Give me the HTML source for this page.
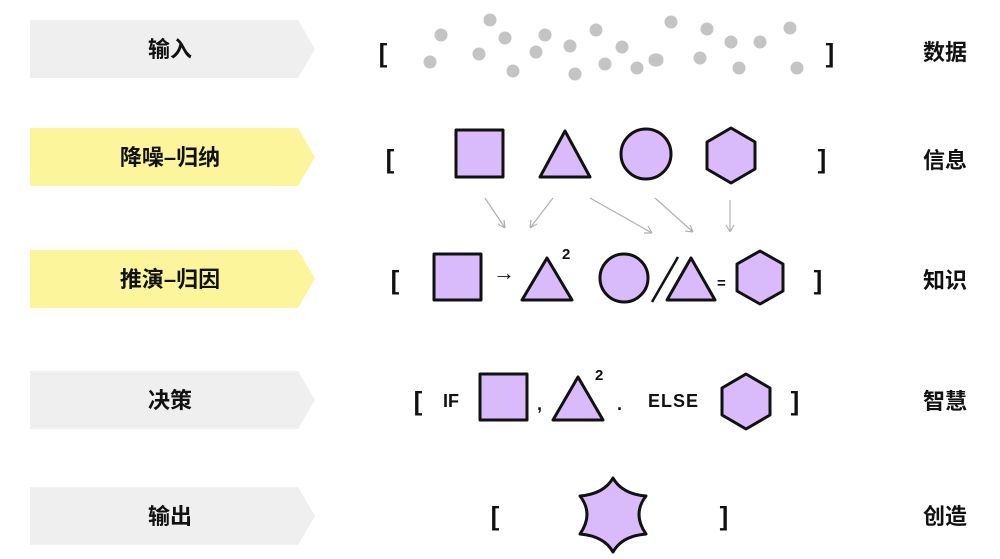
<!DOCTYPE html>
<html><head><meta charset="utf-8"><style>
html,body{margin:0;padding:0;background:#fff;width:1000px;height:559px;overflow:hidden}
svg{display:block}
.lbl{font-family:"Liberation Sans","Noto Sans CJK SC",sans-serif;font-weight:bold;font-size:22px;fill:#111;text-anchor:middle}
.br{font-family:"Liberation Sans",sans-serif;font-weight:bold;font-size:26px;fill:#111;text-anchor:middle}
.sh{fill:#d9bbfb;stroke:#111;stroke-width:3;stroke-linejoin:round}
.tx{font-family:"Liberation Sans",sans-serif;font-weight:bold;fill:#111}
</style></head><body>
<svg width="1000" height="559" viewBox="0 0 1000 559">
<g>
<g><polygon points="30,20 298,20 315,49 298,78 30,78" fill="#efefef"/><text class="lbl" x="170" y="57">输入</text></g>
<g><polygon points="30,128 298,128 315,157 298,186 30,186" fill="#fcf59b"/><text class="lbl" x="170" y="165">降噪–归纳</text></g>
<g><polygon points="30,250 298,250 315,279 298,308 30,308" fill="#fcf59b"/><text class="lbl" x="170" y="287">推演–归因</text></g>
<g><polygon points="30,371 298,371 315,400 298,429 30,429" fill="#efefef"/><text class="lbl" x="170" y="408">决策</text></g>
<g><polygon points="30,487 298,487 315,516 298,545 30,545" fill="#efefef"/><text class="lbl" x="170" y="524">输出</text></g>
</g>
<g>
<text class="lbl" x="945" y="60">数据</text>
<text class="lbl" x="945" y="168">信息</text>
<text class="lbl" x="945" y="288">知识</text>
<text class="lbl" x="945" y="409">智慧</text>
<text class="lbl" x="945" y="524">创造</text>
</g>
<g>
<text class="br" x="383" y="62">[</text><text class="br" x="830" y="62">]</text>
<g fill="#c4c4c4">
<circle cx="490" cy="20" r="6.5"/><circle cx="441" cy="35" r="6.5"/><circle cx="505" cy="38" r="6.5"/><circle cx="545" cy="35" r="6.5"/><circle cx="596" cy="30" r="6.5"/><circle cx="671" cy="22" r="6.5"/><circle cx="707" cy="29" r="6.5"/><circle cx="790" cy="28" r="6.5"/><circle cx="479" cy="54" r="6.5"/><circle cx="536" cy="52" r="6.5"/><circle cx="570" cy="46" r="6.5"/><circle cx="622" cy="47" r="6.5"/><circle cx="575" cy="74" r="6.5"/><circle cx="430" cy="62" r="6.5"/><circle cx="513" cy="71" r="6.5"/><circle cx="605" cy="64" r="6.5"/><circle cx="637" cy="68" r="6.5"/><circle cx="657" cy="60" r="6.5"/><circle cx="700" cy="58" r="6.5"/><circle cx="731" cy="42" r="6.5"/><circle cx="760" cy="42" r="6.5"/><circle cx="739" cy="68" r="6.5"/><circle cx="797" cy="68" r="6.5"/><circle cx="655" cy="60" r="6.5"/>
</g></g>
<g>
<text class="br" x="390" y="168">[</text><text class="br" x="822" y="168">]</text>
<rect class="sh" x="456" y="130" width="47" height="47"/>
<polygon class="sh" points="565,131 590,177 540,177"/>
<circle class="sh" cx="646" cy="154" r="25"/>
<polygon class="sh" points="731,128 755,142 755,169 731,183 707,169 707,142"/>
</g>
<g stroke="#b0b0b0" stroke-width="1.2" fill="none">
<path d="M485,198 L505,228 M505,228 l-1,-8 M505,228 l-7,-4"/>
<path d="M553,198 L530,228 M530,228 l1,-8 M530,228 l7,-4"/>
<path d="M590,198 L652,233 M652,233 l-4,-7 M652,233 l-8,0"/>
<path d="M655,198 L693,232 M693,232 l-3,-7 M693,232 l-8,-1"/>
<path d="M730,200 L730,232 M730,232 l-4,-7 M730,232 l4,-7"/>
</g>
<g>
<text class="br" x="395" y="289">[</text><text class="br" x="818" y="289">]</text>
<rect class="sh" x="434" y="254" width="47" height="46"/>
<text class="tx" x="493" y="280" font-size="22" font-weight="normal">→</text>
<polygon class="sh" points="547,258 572,300 522,300"/>
<text class="tx" x="562" y="259" font-size="15">2</text>
<circle class="sh" cx="624" cy="278" r="24"/>
<line x1="652" y1="302" x2="678" y2="257" stroke="#111" stroke-width="2.5"/>
<polygon class="sh" points="691,258 715,300 667,300"/>
<text class="tx" x="717" y="288" font-size="15">=</text>
<polygon class="sh" points="760,251 783,264 783,291 760,304 737,291 737,264"/>
</g>
<g>
<text class="br" x="418" y="410">[</text><text class="br" x="795" y="410">]</text>
<text class="tx" x="443" y="407" font-size="18">IF</text>
<rect class="sh" x="480" y="374" width="47" height="46"/>
<text class="tx" x="537" y="410" font-size="18">,</text>
<polygon class="sh" points="578,377 603,420 553,420"/>
<text class="tx" x="595" y="380" font-size="15">2</text>
<text class="tx" x="617" y="410" font-size="18">.</text>
<text class="tx" x="648" y="407" font-size="18" letter-spacing="1">ELSE</text>
<polygon class="sh" points="746,374 770,388 770,415 746,429 722,415 722,388"/>
</g>
<g>
<text class="br" x="495" y="525">[</text><text class="br" x="724" y="525">]</text>
<path class="sh" d="M613,478 Q622,494 646,496 Q632,514 646,534 Q622,536 613,552 Q604,536 580,534 Q594,514 580,496 Q604,494 613,478 Z"/>
</g>
</svg>
</body></html>
